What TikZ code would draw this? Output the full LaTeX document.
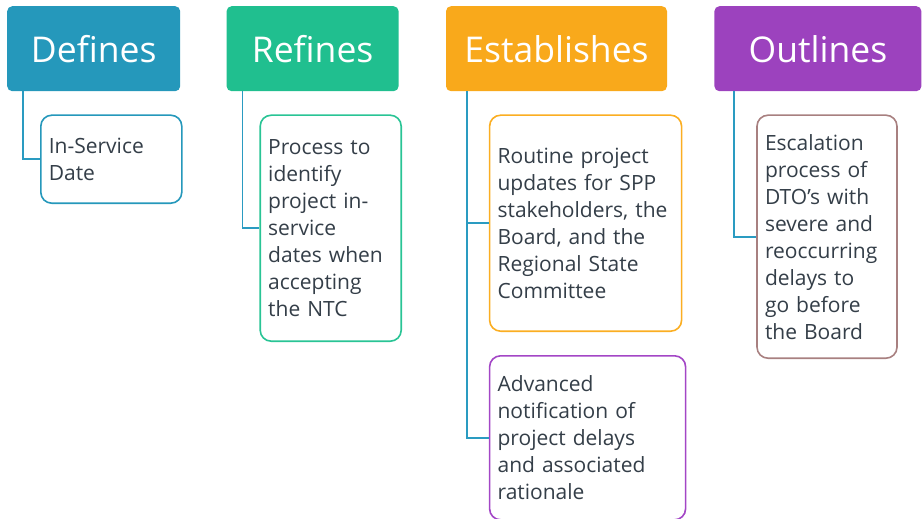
\documentclass[tikz,border=0pt]{standalone}
\usepackage{fontspec}
\setmainfont{Open Sans}
\usepackage{xcolor}
\usetikzlibrary{positioning}
\definecolor{defblue}{HTML}{2598BB}
\definecolor{refgreen}{HTML}{20BF8F}
\definecolor{estorange}{HTML}{F9A91B}
\definecolor{outpurple}{HTML}{9C42BE}
\definecolor{linkblue}{HTML}{2A9BC1}
\definecolor{procgreen}{HTML}{29C495}
\definecolor{routorange}{HTML}{FBAE22}
\definecolor{advpurple}{HTML}{A346C6}
\definecolor{escbrown}{HTML}{A88080}
\definecolor{inkgray}{HTML}{343E48}

\begin{document}
\begin{tikzpicture}[x=1pt,y=1pt,
head/.style={rounded corners=5pt,minimum height=85pt,inner sep=0pt,text=white,font=\fontsize{35.5}{40}\selectfont,anchor=north west},
leaf/.style={draw,line width=1.6pt,rounded corners=11pt,fill=white,inner xsep=8pt,inner ysep=0pt,align=left,text=inkgray,font=\fontsize{21}{27}\selectfont},
link/.style={draw=linkblue,line width=1.8pt}]
\useasboundingbox (0,0) rectangle (922,-519);
% headers
\node[head,fill=defblue,minimum width=173pt] (defs) at (7,-6) {Defines};
\node[head,fill=refgreen,minimum width=172pt,right=46pt of defs] (refs) {Refines};
\node[head,fill=estorange,minimum width=221pt,right=47pt of refs] (estb) {Establishes};
\node[head,fill=outpurple,minimum width=207pt,right=47pt of estb] (outl) {Outlines};
% items
\node[leaf,draw=defblue,text width=125pt,minimum height=88pt,below right=23pt and 33pt of defs.south west] (date) {In-Service\\Date};
\node[leaf,draw=procgreen,text width=125pt,minimum height=226pt,below right=23pt and 33pt of refs.south west] (proc) {Process to\\identify\\project in-\\service\\dates when\\accepting\\the NTC};
\node[leaf,draw=routorange,text width=176pt,minimum height=216pt,below right=23pt and 43pt of estb.south west] (rout) {Routine project\\updates for SPP\\stakeholders, the\\Board, and the\\Regional State\\Committee};
\node[leaf,draw=advpurple,text width=180pt,minimum height=164pt,below right=23pt and 0pt of rout.south west] (advn) {Advanced\\notification of\\project delays\\and associated\\rationale};
\node[leaf,draw=escbrown,text width=124pt,minimum height=243pt,below right=23pt and 42pt of outl.south west] (escl) {Escalation\\process of\\DTO’s with\\severe and\\reoccurring\\delays to\\go before\\the Board};
% links
\draw[link] ([xshift=16pt]defs.south west) |- (date.west);
\draw[link] ([xshift=16pt]refs.south west) |- (proc.west);
\draw[link] ([xshift=21pt]estb.south west) |- (rout.west);
\draw[link] ([xshift=21pt]estb.south west) |- (advn.west);
\draw[link] ([xshift=20pt]outl.south west) |- (escl.west);
\end{tikzpicture}
\end{document}
